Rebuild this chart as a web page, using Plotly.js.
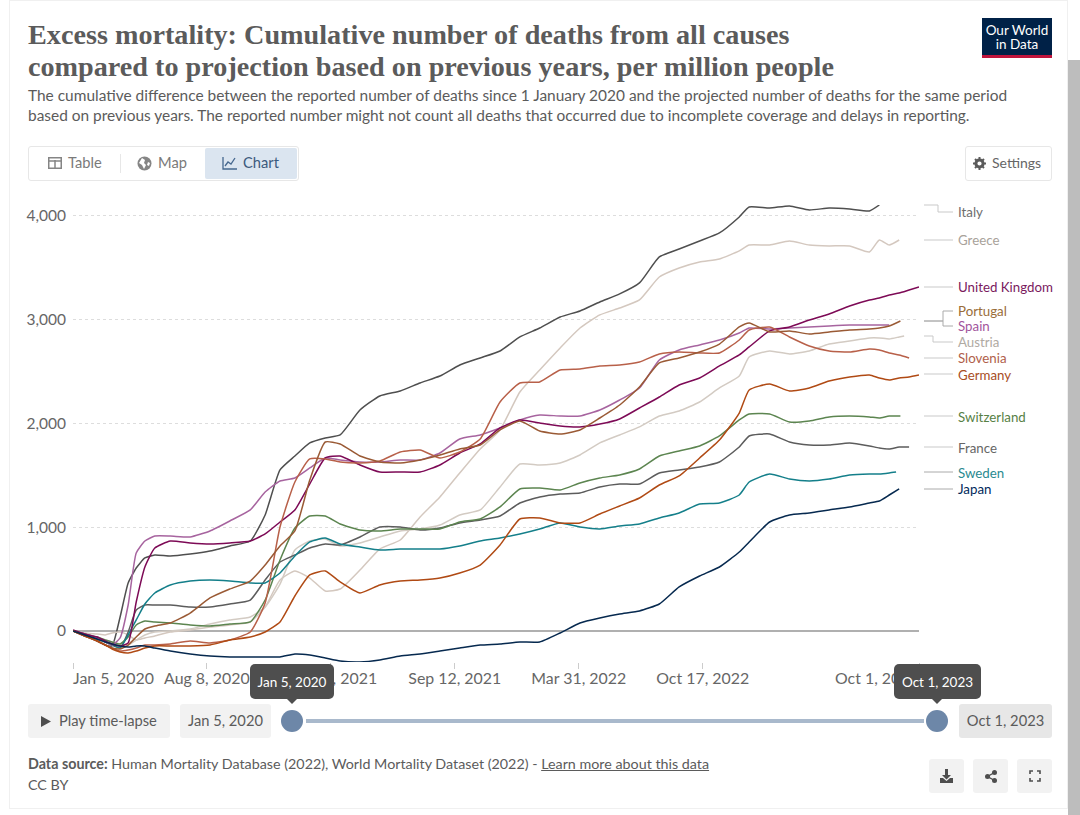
<!DOCTYPE html>
<html><head><meta charset="utf-8">
<script src="https://cdn.plot.ly/plotly-3.0.1.min.js"></script>
<style>
html,body{margin:0;padding:0;width:1080px;height:815px;overflow:hidden;background:#fff;font-family:Lato,sans-serif;color:#5b5b5b}
#plot{position:absolute;left:0;top:0;width:1080px;height:815px}
.abs{position:absolute;box-sizing:border-box}
.t{position:absolute;white-space:nowrap}
.btn{background:#f2f2f2;border-radius:3px;display:flex;align-items:center;justify-content:center;font-size:14.7px;color:#5b5b5b;padding-bottom:2px}
.tip{background:#4e4e4e;color:#fff;border-radius:5px;font-size:13.5px;display:flex;align-items:center;justify-content:center}
.arrow{position:absolute;width:0;height:0;border-left:5px solid transparent;border-right:5px solid transparent;border-top:5px solid #4e4e4e}
</style></head><body>
<div id="plot"></div>
<div class="abs" style="left:9px;top:0;width:1059px;height:809px;border:1px solid #f0f0f0;pointer-events:none"></div>
<div class="abs" style="left:1068px;top:60px;width:12px;height:755px;background:#bdbdbd"></div>

<div class="t" style="left:28px;top:85px;font-size:15.45px;line-height:20px;white-space:normal;width:1030px">The cumulative difference between the reported number of deaths since 1 January 2020 and the projected number of deaths for the same period<br>based on previous years. The reported number might not count all deaths that occurred due to incomplete coverage and delays in reporting.</div>

<div class="abs" style="left:982px;top:18px;width:70px;height:40px;background:#002147;color:#fff;text-align:center;font-size:13.5px;line-height:14px;padding-top:5px;border-bottom:3px solid #c0143c">Our World<br>in Data</div>

<div class="abs" style="left:28px;top:146px;width:271px;height:35px;border:1px solid #e7e7e7;border-radius:3px"></div>
<div class="abs" style="left:205px;top:148px;width:92px;height:31px;background:#dbe5f0;border-radius:2px"></div>
<div class="abs" style="left:120px;top:154px;width:1px;height:19px;background:#e7e7e7"></div>
<svg class="abs" style="left:48px;top:157px" width="14" height="12" viewBox="0 0 14 12"><rect x=".75" y=".75" width="12.5" height="10.5" fill="none" stroke="#858585" stroke-width="1.5"/><path d="M0 4h14M7 3v9" stroke="#858585" stroke-width="1.5"/></svg>
<div class="t" style="left:68px;top:153px;font-size:14.7px;color:#7a7a7a">Table</div>
<svg class="abs" style="left:137px;top:156px" width="15" height="15" viewBox="0 0 15 15"><circle cx="7.5" cy="7.5" r="7" fill="#858585"/><path d="M5 2l3 2-1 3 2 2-2 4-2-4-3-2zM11 6l2 1-1 3-2-1z" fill="#fff"/></svg>
<div class="t" style="left:158px;top:153px;font-size:14.7px;color:#7a7a7a">Map</div>
<svg class="abs" style="left:222px;top:156px" width="15" height="14" viewBox="0 0 15 14"><path d="M1 1v12h14" fill="none" stroke="#46688f" stroke-width="1.3"/><path d="M3 10l3-4 3 2 4-6" fill="none" stroke="#46688f" stroke-width="1.3"/></svg>
<div class="t" style="left:243px;top:153px;font-size:14.7px;color:#3b5a7d">Chart</div>

<div class="abs" style="left:965px;top:146px;width:87px;height:35px;border:1px solid #e7e7e7;border-radius:3px"></div>
<svg class="abs" style="left:973px;top:157px" width="13" height="13" viewBox="0 0 13 13"><circle cx="6.5" cy="6.5" r="3.6" fill="none" stroke="#5b5b5b" stroke-width="3"/><path d="M6.5 0v13M0 6.5h13M2 2l9 9M11 2l-9 9" stroke="#5b5b5b" stroke-width="2" stroke-dasharray="2.2 8.6 2.2 0"/></svg>
<div class="t" style="left:992px;top:154px;font-size:14px;color:#666">Settings</div>

<div class="abs btn" style="left:28px;top:704px;width:142px;height:34px;justify-content:flex-start;padding-left:31px">Play time-lapse</div>
<svg class="abs" style="left:41px;top:716px" width="10" height="11"><path d="M0 0L10 5.5L0 11z" fill="#4e4e4e"/></svg>
<div class="abs btn" style="left:180px;top:704px;width:91px;height:34px">Jan 5, 2020</div>
<div class="abs btn" style="left:959px;top:704px;width:93px;height:34px;background:#e7e7e7">Oct 1, 2023</div>
<div class="abs" style="left:306px;top:719px;width:618px;height:4px;background:#a9b9cc"></div>
<div class="abs" style="left:281px;top:710px;width:22px;height:22px;border-radius:50%;background:#6d87a8"></div>
<div class="abs" style="left:926px;top:710px;width:22px;height:22px;border-radius:50%;background:#6d87a8"></div>
<div class="abs tip" style="left:250px;top:664px;width:84px;height:35px">Jan 5, 2020</div>
<div class="arrow" style="left:287px;top:699px"></div>
<div class="abs tip" style="left:894px;top:664px;width:87px;height:35px">Oct 1, 2023</div>
<div class="arrow" style="left:932px;top:699px"></div>

<div class="t" style="left:28px;top:755px;font-size:14.3px"><b>Data source:</b> Human Mortality Database (2022), World Mortality Dataset (2022) - <u>Learn more about this data</u></div>
<div class="t" style="left:28px;top:776px;font-size:14.3px">CC BY</div>

<div class="abs btn" style="left:929px;top:759px;width:35px;height:34px;padding:0"><svg width="13" height="14" viewBox="0 0 13 14"><path d="M5 0h3v6h3L6.5 10.5 2 6h3zM0 9h3l3.5 3L10 9h3v5H0z" fill="#4e4e4e"/></svg></div>
<div class="abs btn" style="left:973px;top:759px;width:35px;height:34px;padding:0"><svg width="12" height="13" viewBox="0 0 12 13"><circle cx="9.5" cy="2.5" r="2.5" fill="#4e4e4e"/><circle cx="9.5" cy="10.5" r="2.5" fill="#4e4e4e"/><circle cx="2.5" cy="6.5" r="2.5" fill="#4e4e4e"/><path d="M9.5 2.5L2.5 6.5L9.5 10.5" stroke="#4e4e4e" stroke-width="1.4" fill="none"/></svg></div>
<div class="abs btn" style="left:1017px;top:759px;width:35px;height:34px;padding:0"><svg width="12" height="12" viewBox="0 0 12 12"><path d="M1 4V1h3M8 1h3v3M11 8v3H8M4 11H1V8" fill="none" stroke="#4e4e4e" stroke-width="1.6"/></svg></div>

<script>
const dates = ['2020-01-05','2020-01-24','2020-02-13','2020-02-26','2020-03-08','2020-03-21','2020-04-03','2020-04-16','2020-04-30','2020-05-16',
'2020-06-10','2020-07-12','2020-08-13','2020-09-14','2020-10-17','2020-11-10','2020-12-04','2020-12-28','2021-01-21','2021-02-15',
'2021-03-11','2021-04-12','2021-05-14','2021-06-16','2021-07-18','2021-08-19','2021-09-20','2021-10-23','2021-11-24','2021-12-26',
'2022-01-27','2022-03-01','2022-04-02','2022-05-04','2022-06-05','2022-07-07','2022-08-08','2022-09-09','2022-10-12','2022-11-13',
'2022-12-15','2022-12-31','2023-02-02','2023-03-06','2023-04-07','2023-05-09','2023-06-11','2023-07-13','2023-07-29','2023-08-14',
'2023-08-30','2023-09-15','2023-10-01'];

const italy = [0,-48,-96,-135,-144,135,462,606,703,732,722,741,770,818,866,1117,1550,1684,1810,1858,1887,2127,2262,2310,2387,2454,2560,2628,2695,2830,2916,3022,3080,3167,3244,3350,3600,3677,3754,3831,3985,4081,4071,4091,4052,4071,4062,4043,4100];
const greece = [0,-19,-29,-38,-19,-10,-38,-87,-67,-48,-10,10,38,58,87,231,491,578,510,385,404,587,789,876,1097,1290,1521,1752,1935,2300,2512,2724,2916,3042,3109,3186,3407,3494,3552,3581,3658,3715,3715,3754,3715,3706,3706,3648,3763,3715,3763];
const austria = [0,-38,-67,-87,-106,-125,-135,-87,-38,-10,0,19,67,106,135,231,452,780,866,886,818,847,905,963,982,1020,1117,1165,1386,1607,1598,1617,1694,1810,1887,1964,2069,2118,2204,2339,2454,2637,2695,2666,2695,2762,2791,2820,2820,2811,2830,2839];
const unitedKingdom = [10,-29,-58,-96,-125,-144,-116,279,616,799,866,847,837,847,866,934,1049,1165,1415,1665,1684,1598,1530,1530,1530,1598,1713,1800,1954,2031,2002,1973,1964,1992,2041,2146,2252,2368,2435,2551,2657,2734,2888,2926,2993,3051,3128,3186,3205,3234,3253,3282,3311];
const portugal = [0,-48,-96,-135,-164,-173,-135,-58,19,48,77,173,318,404,481,635,818,963,1453,1819,1800,1684,1627,1617,1646,1694,1752,1790,1935,2021,1925,1896,1935,2050,2175,2349,2580,2628,2685,2762,2926,2965,2878,2888,2859,2878,2897,2907,2916,2936,2984];
const spain = [0,-29,-67,-106,-135,-67,250,751,866,914,914,905,963,1059,1165,1338,1444,1473,1569,1665,1646,1627,1627,1646,1646,1713,1848,1887,1954,2031,2079,2069,2069,2127,2223,2339,2608,2705,2753,2801,2868,2916,2907,2916,2926,2936,2945,2945,2945,2945];
const slovenia = [0,-48,-96,-135,-164,-193,-183,-164,-135,-135,-125,-96,-116,-87,-10,270,1001,1434,1656,1656,1627,1617,1636,1723,1742,1665,1723,1848,2204,2387,2397,2512,2522,2551,2560,2589,2666,2685,2676,2676,2801,2897,2926,2830,2743,2695,2685,2714,2705,2676,2657,2628];
const germany = [0,-48,-96,-135,-173,-202,-212,-193,-164,-144,-144,-144,-135,-87,-58,-10,87,337,539,578,472,366,443,481,491,510,558,635,828,1078,1088,1040,1040,1126,1203,1280,1405,1492,1665,1838,2098,2320,2377,2310,2339,2406,2445,2464,2435,2416,2435,2445,2464];
const switzerland = [0,-29,-58,-87,-106,-125,-58,58,96,87,77,58,48,67,87,298,683,991,1107,1107,1030,972,962,982,982,982,1049,1078,1194,1367,1376,1357,1425,1473,1502,1559,1684,1733,1781,1877,2031,2089,2089,2012,2021,2060,2069,2060,2050,2069,2069];
const france = [0,-38,-77,-106,-135,-164,-10,202,250,250,250,231,231,260,298,491,664,732,799,837,828,905,1001,1001,972,991,1040,1068,1107,1232,1290,1319,1328,1386,1415,1415,1521,1550,1579,1627,1771,1877,1896,1819,1790,1790,1810,1781,1761,1752,1771,1771];
const sweden = [0,-38,-77,-106,-135,-164,-38,106,260,366,443,481,491,481,462,462,558,722,857,895,837,808,780,789,789,789,818,866,895,934,982,1040,1001,982,1011,1030,1088,1136,1222,1232,1309,1434,1511,1463,1444,1463,1502,1511,1511,1521,1530];
const japan = [0,-38,-77,-106,-125,-144,-154,-144,-144,-164,-193,-221,-241,-250,-250,-250,-250,-221,-231,-260,-289,-298,-279,-241,-221,-193,-164,-135,-125,-106,-106,-19,77,125,164,193,260,424,529,616,760,857,1049,1117,1136,1165,1194,1232,1251,1309,1367];

const seriesNames = ['Italy','Greece','Austria','France','Switzerland','Sweden','Spain','United Kingdom','Slovenia','Portugal','Germany','Japan'];
const seriesValues = [italy,greece,austria,france,switzerland,sweden,spain,unitedKingdom,slovenia,portugal,germany,japan];
const lineColors = ['#4f4f4f','#d4c8bf','#d3cbc3','#5c5c5c','#5c8550','#147f8a','#a7649f','#7d0a56','#b86049','#9a5a35','#b04a14','#06294f'];
const labelColors = ['#6e6e6e','#a8a29a','#b0aaa3','#666666','#578145','#2a8a90','#a2559c','#7a1a5e','#b0604a','#996d39','#a84e1f','#00295b'];
const lastDates = {Austria:'2023-09-07',Sweden:'2023-08-25',Spain:'2023-08-14',Switzerland:'2023-09-01',Portugal:'2023-09-01'};
const xTickDates = ['2020-01-05','2020-08-08','2021-02-24','2021-09-12','2022-03-31','2022-10-17','2023-10-01'];
const xTickText = ['','Aug 8, 2020','Feb 24, 2021','Sep 12, 2021','Mar 31, 2022','Oct 17, 2022',''];
const yTicks = [0,1000,2000,3000,4000];
const yTickText = ['0','1,000','2,000','3,000','4,000'];
const titleLines = ['Excess mortality: Cumulative number of deaths from all causes','compared to projection based on previous years, per million people'];

// label positions in page pixels
const L=73,R=919,T=205,B=662;
const px=x=>(x-L)/(R-L), py=y=>(B-y)/(B-T);
const labelY = {'Italy':212,'Greece':240,'United Kingdom':287,'Portugal':311,'Spain':326,'Austria':342,'Slovenia':358,'Germany':375,'Switzerland':417,'France':448,'Sweden':473,'Japan':489};
const seg=(x0,y0,x1,y1,c)=>({type:'line',xref:'paper',yref:'paper',x0:px(x0),y0:py(y0),x1:px(x1),y1:py(y1),line:{color:c||'#c9c9c9',width:1}});
const shapes=[
 seg(924,205,938,205),seg(938,205,938,212),seg(938,212,953,212),
 seg(924,240,953,240),seg(924,287,953,287),
 seg(924,321,943,321,'#888'),seg(943,311,943,326,'#aaa'),seg(943,311,953,311,'#aaa'),seg(943,326,953,326,'#aaa'),
 seg(924,336,933,336),seg(933,336,933,342),seg(933,342,953,342),
 seg(924,358,953,358),seg(924,374,953,374),seg(924,416,953,416),
 seg(924,447,953,447),seg(924,472,953,472,'#aaa'),seg(924,489,953,489,'#aaa')
];
const traces=seriesNames.map((n,i)=>{
  const v=seriesValues[i];
  const x=dates.slice(0,v.length);
  if(lastDates[n]) x[x.length-1]=lastDates[n];
  return {type:'scatter',mode:'lines',name:n,x:x,y:v,cliponaxis:false,
    line:{color:lineColors[i],width:1.5,shape:'spline',smoothing:0.5},hoverinfo:'x+y+name'};
});
const annotations=seriesNames.map((n,i)=>({xref:'paper',yref:'paper',x:px(955.5),y:py(labelY[n]),xanchor:'left',yanchor:'middle',showarrow:false,text:n,font:{family:'Lato',size:13.3,color:labelColors[i]}}));
annotations.push({xref:'x',yref:'paper',x:xTickDates[0],y:py(677.5),xanchor:'left',yanchor:'middle',showarrow:false,xshift:-2,text:'Jan 5, 2020',font:{family:'Lato',size:15.9,color:'#666'}});
annotations.push({xref:'x',yref:'paper',x:xTickDates[6],y:py(677.5),xanchor:'right',yanchor:'middle',showarrow:false,xshift:2,text:'Oct 1, 2023',font:{family:'Lato',size:15.9,color:'#666'}});
annotations.push({xref:'paper',yref:'paper',x:px(26),y:py(67),xanchor:'left',yanchor:'middle',showarrow:false,text:titleLines[1],font:{family:'Liberation Serif',size:28.2,color:'#5b5b5b',weight:700}});
const layout={
  width:1080,height:815,showlegend:false,paper_bgcolor:'rgba(0,0,0,0)',plot_bgcolor:'rgba(0,0,0,0)',
  margin:{l:L,r:1080-R,t:T,b:815-B,pad:0},
  title:{text:titleLines[0],xref:'container',yref:'container',x:28/1080,y:1-24/815,xanchor:'left',yanchor:'top',font:{family:'Liberation Serif',size:28.2,color:'#5b5b5b',weight:700}},
  xaxis:{type:'date',range:['2020-01-05','2023-10-01'],tickmode:'array',tickvals:xTickDates,ticktext:xTickText,ticks:'outside',ticklen:6,tickcolor:'#ccc',tickwidth:1,ticklabelstandoff:-4,showgrid:false,zeroline:false,showline:false,tickfont:{family:'Lato',size:15.9,color:'#666'}},
  yaxis:{range:[-298.4,4100],tickmode:'array',tickvals:yTicks,ticktext:yTickText,ticks:'outside',ticklen:3,tickcolor:'rgba(0,0,0,0)',showgrid:true,gridcolor:'#dddddd',griddash:'3px,3px',gridwidth:1,zeroline:true,zerolinecolor:'#b0b0b0',zerolinewidth:1.5,showline:false,tickfont:{family:'Lato',size:15.5,color:'#666'}},
  shapes:shapes,annotations:annotations
};
Plotly.newPlot('plot',traces,layout,{displayModeBar:false,staticPlot:true});
</script>
</body></html>
